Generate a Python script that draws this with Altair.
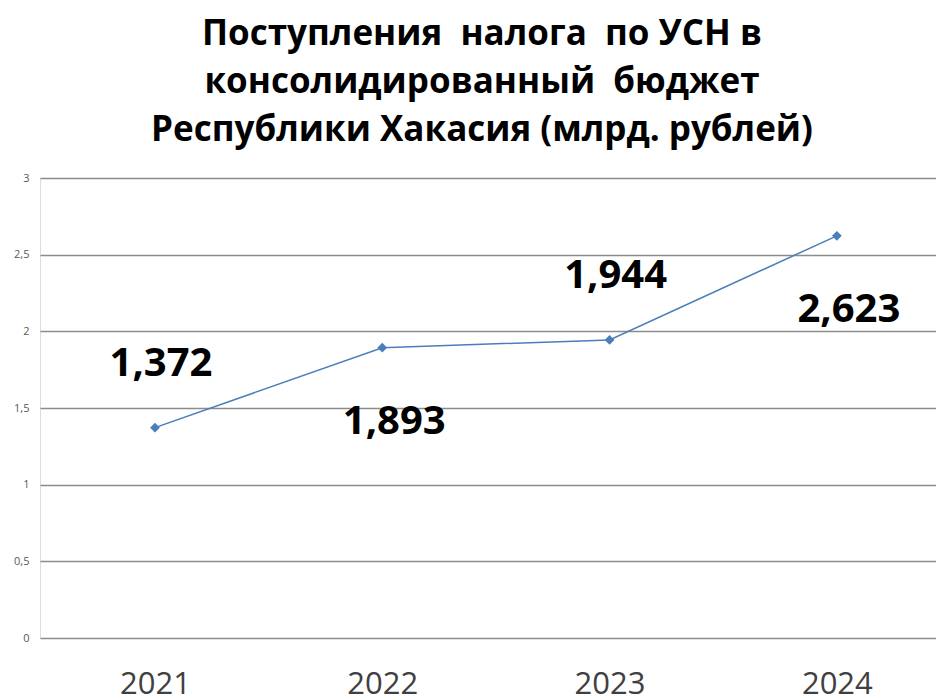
import altair as alt
import pandas as pd

# ---- data ----
years = ["2021", "2022", "2023", "2024"]
values = [1.372, 1.893, 1.944, 2.623]
labels_above = ["2021", "2023"]
labels_below = ["2022", "2024"]
y_ticks = [0, 0.5, 1, 1.5, 2, 2.5, 3]
title_lines = [
    "Поступления\u00a0 налога\u00a0 по УСН в",
    "консолидированный\u00a0 бюджет",
    "Республики Хакасия (млрд. рублей)",
]

df = pd.DataFrame({"year": years, "value": values})

FONT = "Open Sans"
LINE_COLOR = "#4A7EBB"

x_enc = alt.X(
    "year:O",
    scale=alt.Scale(type="point", padding=0.471, align=0.537),
    axis=alt.Axis(
        title=None, labelAngle=0, labelFontSize=31, labelFont=FONT,
        labelColor="#404040", labelPadding=31, ticks=False, domain=False,
        grid=False,
    ),
)
y_enc = alt.Y(
    "value:Q",
    scale=alt.Scale(domain=[0, 3], nice=False, zero=True),
    axis=alt.Axis(
        title=None, values=y_ticks, format="~g",
        labelExpr="replace(datum.label, '.', ',')",
        labelFontSize=11, labelFont=FONT, labelColor="#595959",
        labelPadding=11, ticks=False, domain=False,
        gridColor="#8c8c8c", gridWidth=1.5,
    ),
)

base = alt.Chart(df).encode(x=x_enc, y=y_enc)

line = base.mark_line(color=LINE_COLOR, strokeWidth=1.5)
points = base.mark_point(shape="diamond", filled=True, size=95, color=LINE_COLOR, opacity=1)

label_expr = "replace(format(datum.value, '.3f'), '.', ',')"

text_above = (
    base.transform_filter(alt.FieldOneOfPredicate(field="year", oneOf=labels_above))
    .transform_calculate(lbl=label_expr)
    .mark_text(font=FONT, fontSize=40, fontWeight="bold", color="black",
               baseline="middle", align="center", dy=-64, dx=6)
    .encode(text="lbl:N")
)
text_below = (
    base.transform_filter(alt.FieldOneOfPredicate(field="year", oneOf=labels_below))
    .transform_calculate(lbl=label_expr)
    .mark_text(font=FONT, fontSize=40, fontWeight="bold", color="black",
               baseline="middle", align="center", dy=74, dx=12)
    .encode(text="lbl:N")
)

chart = (
    alt.layer(line, points, text_above, text_below)
    .properties(
        width=896,
        height=460,
        title=alt.TitleParams(
            text=title_lines, font=FONT, fontSize=35, fontWeight="bold",
            color="black", lineHeight=48, anchor="middle", offset=24, dx=-6,
        ),
        autosize=alt.AutoSizeParams(type="none"),
        padding={"left": 40, "top": 178, "right": 0, "bottom": 62},
    )
    .configure_view(stroke=None)
    .configure(background="white")
)

chart.save("out.html", embed_options={"renderer": "svg", "actions": False})
